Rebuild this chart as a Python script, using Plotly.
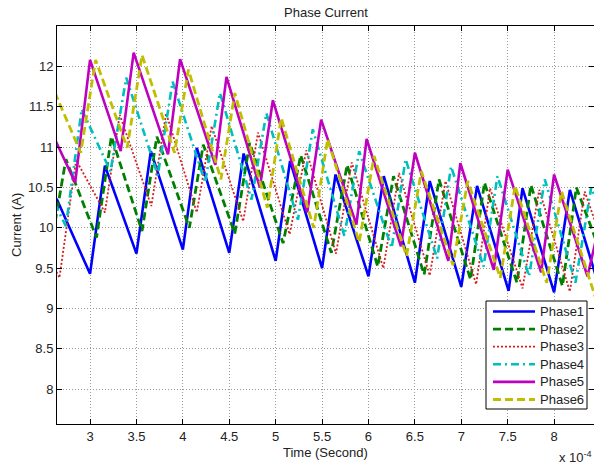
import plotly.graph_objects as go

# Phase currents of a six-phase interleaved converter.
# Time values are in units of 1e-4 s (the axis carries the "x 10^-4" multiplier).
# Each list holds the turning points (valleys and peaks) of the ripple waveform.

phase1_t = [2.64, 3.00, 3.16, 3.50, 3.655, 4.00, 4.15, 4.50, 4.655, 5.00, 5.155, 5.50,
            5.645, 6.00, 6.165, 6.50, 6.66, 7.00, 7.17, 7.51, 7.66, 8.00, 8.17, 8.45]
phase1_i = [10.36, 9.43, 10.77, 9.68, 10.95, 9.73, 10.99, 9.69, 10.92, 9.59, 10.83, 9.50,
            10.66, 9.40, 10.64, 9.32, 10.58, 9.27, 10.52, 9.22, 10.49, 9.20, 10.47, 9.40]

phase2_t = [2.58, 2.74, 3.07, 3.23, 3.56, 3.72, 4.07, 4.22, 4.56, 4.72, 5.08, 5.27,
            5.60, 5.77, 6.10, 6.27, 6.60, 6.76, 7.10, 7.25, 7.60, 7.75, 8.09, 8.24, 8.45]
phase2_i = [9.78, 10.85, 9.88, 11.13, 9.96, 11.13, 10.00, 11.03, 9.93, 11.05, 9.81, 10.90,
            9.69, 10.78, 9.52, 10.64, 9.42, 10.60, 9.36, 10.56, 9.32, 10.53, 9.28, 10.50, 9.85]

phase3_t = [2.62, 2.67, 2.85, 3.16, 3.32, 3.66, 3.82, 4.15, 4.31, 4.65, 4.81, 5.15, 5.33,
            5.65, 5.82, 6.16, 6.33, 6.66, 6.83, 7.16, 7.31, 7.66, 7.84, 8.17, 8.33, 8.45]
phase3_i = [9.50, 9.38, 10.84, 10.19, 11.40, 10.27, 11.42, 10.19, 11.26, 10.08, 11.18, 9.92, 10.96,
            9.68, 10.81, 9.50, 10.68, 9.41, 10.58, 9.30, 10.49, 9.25, 10.47, 9.21, 10.45, 10.05]

phase4_t = [2.62, 2.74, 2.91, 3.22, 3.39, 3.73, 3.89, 4.24, 4.40, 4.74, 4.90, 5.24, 5.40,
            5.74, 5.90, 6.25, 6.40, 6.74, 6.89, 7.24, 7.39, 7.73, 7.90, 8.23, 8.40, 8.45]
phase4_i = [10.30, 10.02, 11.47, 10.70, 11.86, 10.65, 11.81, 10.56, 11.67, 10.35, 11.42, 10.10, 11.22,
            9.90, 10.95, 9.75, 10.85, 9.62, 10.76, 9.52, 10.64, 9.40, 10.60, 9.32, 10.50, 10.35]

phase5_t = [2.62, 2.84, 3.00, 3.33, 3.47, 3.84, 3.97, 4.35, 4.47, 4.83, 4.97, 5.34, 5.49,
            5.87, 5.98, 6.35, 6.50, 6.86, 6.99, 7.35, 7.50, 7.86, 8.00, 8.36, 8.45]
phase5_i = [11.10, 10.56, 12.08, 10.95, 12.17, 10.91, 12.09, 10.78, 11.87, 10.50, 11.58, 10.19, 11.34,
            10.04, 11.10, 9.77, 10.93, 9.59, 10.80, 9.48, 10.72, 9.45, 10.66, 9.40, 9.85]

phase6_t = [2.62, 2.90, 3.06, 3.40, 3.56, 3.91, 4.06, 4.41, 4.56, 4.91, 5.06, 5.41, 5.56,
            5.90, 6.06, 6.41, 6.57, 6.91, 7.07, 7.42, 7.58, 7.92, 8.08, 8.45]
phase6_i = [11.68, 10.93, 12.08, 10.99, 12.14, 10.93, 11.96, 10.60, 11.67, 10.25, 11.36, 10.00, 11.10,
            9.82, 10.89, 9.65, 10.70, 9.54, 10.58, 9.38, 10.52, 9.32, 10.45, 9.12]

series_names = ["Phase1", "Phase2", "Phase3", "Phase4", "Phase5", "Phase6"]
series_t = [phase1_t, phase2_t, phase3_t, phase4_t, phase5_t, phase6_t]
series_i = [phase1_i, phase2_i, phase3_i, phase4_i, phase5_i, phase6_i]

x_ticks = [3, 3.5, 4, 4.5, 5, 5.5, 6, 6.5, 7, 7.5, 8]
x_tick_text = ["3", "3.5", "4", "4.5", "5", "5.5", "6", "6.5", "7", "7.5", "8"]
y_ticks = [8, 8.5, 9, 9.5, 10, 10.5, 11, 11.5, 12]
y_tick_text = ["8", "8.5", "9", "9.5", "10", "10.5", "11", "11.5", "12"]

# line styles: colour, width, dash pattern
styles = [
    ("#0000ff", 2.6, "solid"),
    ("#008000", 2.8, "8px,4px"),
    ("#d42020", 1.8, "2px,2px"),
    ("#00bfbf", 2.6, "8px,4px,2px,4px"),
    ("#bf00bf", 2.6, "solid"),
    ("#bfbf00", 2.8, "8px,4px"),
]

fig = go.Figure()
for name, t, i, (color, width, dash) in zip(series_names, series_t, series_i, styles):
    fig.add_trace(go.Scatter(
        x=t, y=i, mode="lines", name=name, showlegend=False,
        line=dict(color=color, width=width, dash=dash),
    ))

FONT = "Liberation Sans, Arial, Helvetica, sans-serif"
TEXT = "#222222"

# plot-area geometry in pixels, used to place the boxed legend
W, H = 594, 466
ML, MR, MT, MB = 57, 0, 26, 42
PW, PH = W - ML - MR, H - MT - MB


def px_x(px):
    return (px - ML) / PW


def px_y(py):
    return (H - MB - py) / PH


axis_common = dict(
    showline=True, linecolor="#000000", linewidth=1, mirror="ticks",
    ticks="inside", ticklen=5, tickcolor="#000000",
    showgrid=True, gridcolor="#9a9a9a", griddash="1px,2px", gridwidth=1,
    zeroline=False, tickfont=dict(family=FONT, size=13, color=TEXT),
)

fig.update_xaxes(range=[2.644, 8.43], tickmode="array", tickvals=x_ticks,
                 ticktext=x_tick_text, **axis_common)
fig.update_yaxes(range=[7.57, 12.5], tickmode="array", tickvals=y_ticks,
                 ticktext=y_tick_text, **axis_common)

# boxed legend in the lower right corner
leg_left, leg_right, leg_top, leg_bottom = 486, 587, 301, 409
row_first, row_step = 311.5, 17.6
sample_x0, sample_x1, label_x = 493, 535, 538

shapes = [dict(type="rect", xref="paper", yref="paper",
               x0=px_x(leg_left), x1=px_x(leg_right),
               y0=px_y(leg_bottom), y1=px_y(leg_top),
               fillcolor="#ffffff", line=dict(color="#000000", width=1), layer="above")]
annotations = []
for k, (name, (color, width, dash)) in enumerate(zip(series_names, styles)):
    row_y = row_first + k * row_step
    shapes.append(dict(type="line", xref="paper", yref="paper",
                       x0=px_x(sample_x0), x1=px_x(sample_x1),
                       y0=px_y(row_y), y1=px_y(row_y), layer="above",
                       line=dict(color=color, width=width, dash=dash)))
    annotations.append(dict(text=name, xref="paper", yref="paper",
                            x=px_x(label_x), y=px_y(row_y),
                            xanchor="left", yanchor="middle", showarrow=False,
                            font=dict(family=FONT, size=13, color=TEXT)))

annotations += [
    dict(text="Phase Current", xref="paper", yref="paper", x=0.5, y=px_y(13),
         xanchor="center", yanchor="middle", showarrow=False,
         font=dict(family=FONT, size=13, color=TEXT)),
    dict(text="Current (A)", xref="paper", yref="paper", x=px_x(16), y=0.5,
         xanchor="center", yanchor="middle", textangle=-90, showarrow=False,
         font=dict(family=FONT, size=13, color=TEXT)),
    dict(text="Time (Second)", xref="paper", yref="paper", x=0.5, y=px_y(452.5),
         xanchor="center", yanchor="middle", showarrow=False,
         font=dict(family=FONT, size=13, color=TEXT)),
    dict(text="x 10<sup>-4</sup>", xref="paper", yref="paper", x=1.0, y=px_y(457),
         xanchor="right", yanchor="middle", showarrow=False,
         font=dict(family=FONT, size=13, color=TEXT)),
]

fig.update_layout(
    width=W, height=H,
    margin=dict(l=ML, r=MR, t=MT, b=MB),
    paper_bgcolor="#ffffff", plot_bgcolor="#ffffff",
    font=dict(family=FONT, size=13, color=TEXT),
    showlegend=False,
    shapes=shapes,
    annotations=annotations,
)

fig.write_html("out.html")
